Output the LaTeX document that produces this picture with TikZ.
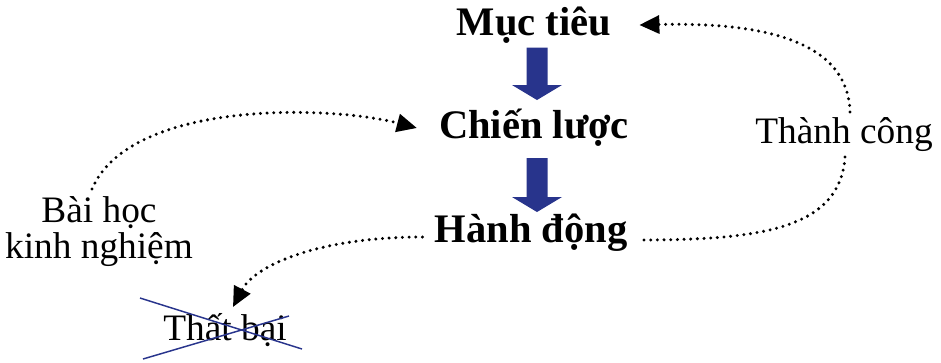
\documentclass[tikz,border=0pt]{standalone}
\usepackage{fontspec}
\setmainfont{Liberation Serif}
\usetikzlibrary{arrows.meta}
\definecolor{arrowblue}{RGB}{40,52,140}
\begin{document}
\begin{tikzpicture}[x=0.75pt,y=-0.75pt,
  headtext/.style={inner sep=0pt, anchor=base, font=\fontsize{30.4}{36}\selectfont\bfseries},
  plaintext/.style={inner sep=0pt, anchor=base, font=\fontsize{28}{33}\selectfont},
  conn/.style={line width=2.5pt, line cap=round, dash pattern=on 0pt off 5pt},
  arrowtip/.style={-{Triangle[length=15pt,width=13.5pt]}},
  bigarrow/.style={fill=arrowblue, draw=none},
  strike/.style={draw=arrowblue, line width=1.1pt}]
\useasboundingbox (0,0) rectangle (941,362);
% main nodes
\node[headtext] (mt) at (534,35) {Mục tiêu};
\node[headtext] (cl) at (534,138) {Chiến lược};
\node[headtext] (hd) at (531,242) {Hành động};
\node[plaintext] (tc) at (844,143) {Thành công};
\node[plaintext] (bh1) at (99,222) {Bài học};
\node[plaintext] (bh2) at (99,258) {kinh nghiệm};
\node[plaintext] (tb) at (225,340) {Thất bại};
% big blue arrows
\fill[bigarrow] (526.5,47.7) -- (547.5,47.7) -- (547.5,85) -- (562,85) -- (537,100) -- (512,85) -- (526.5,85) -- cycle;
\fill[bigarrow] (526.5,158) -- (547.5,158) -- (547.5,197) -- (562,197) -- (537,212) -- (512,197) -- (526.5,197) -- cycle;
% cross over "Thất bại"
\draw[strike] (140,298) -- (302,349);
\draw[strike] (143,359) -- (289,316);
% dotted connectors
\draw[conn, arrowtip] ([xshift=4.5pt,yshift=23.25pt]tc.base) .. controls +(-2,-72) and +(122,-3) .. ([xshift=21pt,yshift=7.5pt]mt.base east);
\draw[conn] ([xshift=0.75pt,yshift=-10.5pt]tc.base) .. controls +(-5,73) and +(120,0) .. ([xshift=7.5pt,yshift=1.5pt]hd.base east);
\draw[conn, arrowtip] ([xshift=-5.25pt,yshift=24.75pt]bh1.base) .. controls +(38,-89) and +(-88,-23) .. ([xshift=-16.5pt,yshift=7.5pt]cl.base west);
\draw[conn, arrowtip] ([xshift=-9pt,yshift=3.75pt]hd.base west) .. controls +(-103,0) and +(22,-42) .. ([xshift=6pt,yshift=24.75pt]tb.base);
\end{tikzpicture}
\end{document}
